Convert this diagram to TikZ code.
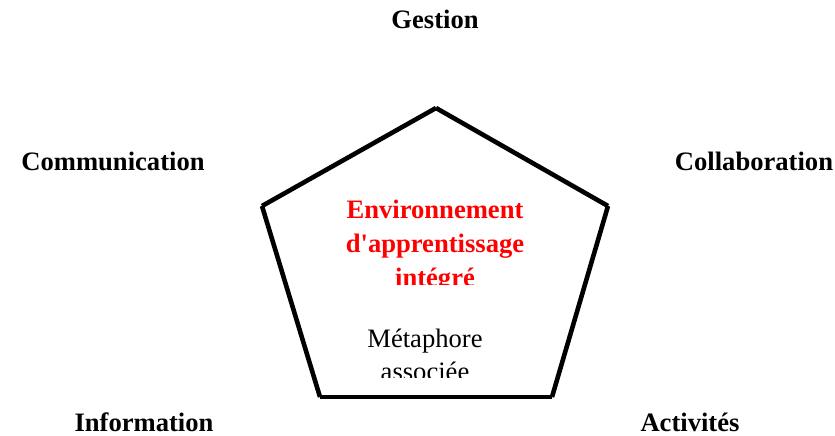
\documentclass[tikz,border=0pt]{standalone}
\usepackage{fontspec}
\setmainfont{Liberation Serif}
\begin{document}
\begin{tikzpicture}[x=1pt,y=-1pt,
  pole/.style={anchor=base,font=\fontsize{26.6}{33}\selectfont\bfseries},
  side/.style={line width=4.6pt}]
\useasboundingbox (0,0) rectangle (835,436);
\path
(436,108) coordinate(1)
(608,206) coordinate(2)
(552,397) coordinate(3)
(320,397) coordinate(4)
(262,206) coordinate(5);
\path[draw,side] (5)--(1);
\path[draw,side] (1)--(2);
\path[draw,side] (2)--(3);
\path[draw,side] (3)--(4);
\path[draw,side] (4)--(5);

\node[pole] (gestion) at (435,29) {Gestion};
\node[pole] (comm) at (113,170) {Communication};
\node[pole] (collab) at (754,170) {Collaboration};
\node[pole] (info) at (144,431) {Information};
\node[pole] (activ) at (690,431) {Activités};

\begin{scope}
\clip (330,190) rectangle (540,284);
\node[anchor=north,align=center,inner sep=0pt,text=red,
  font=\fontsize{26.6}{34}\selectfont\bfseries] (env) at (435,200)
  {Environnement\\d\textquotesingle apprentissage\\intégré};
\end{scope}
\begin{scope}
\clip (340,315) rectangle (510,377);
\node[anchor=north,align=center,inner sep=0pt,
  font=\fontsize{26.6}{33}\selectfont] (meta) at (425,329)
  {Métaphore\\associée};
\end{scope}
\end{tikzpicture}
\end{document}
